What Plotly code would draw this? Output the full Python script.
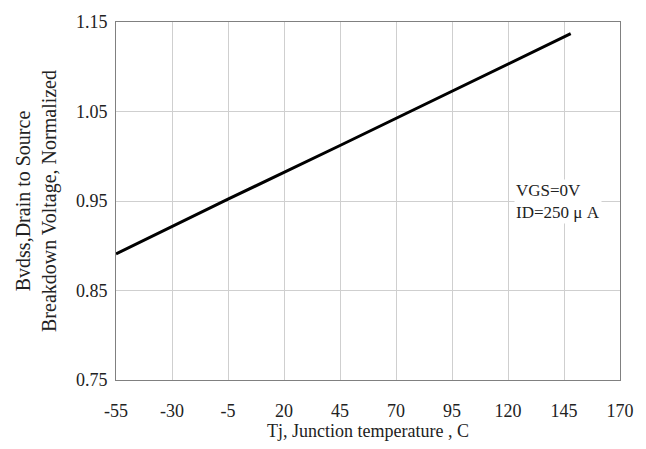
import plotly.graph_objects as go

temp_c = [-55, -5, 45, 95, 148]
bvdss_norm = [0.891, 0.952, 1.012, 1.073, 1.137]
x_ticks = [-55, -30, -5, 20, 45, 70, 95, 120, 145, 170]
x_tick_labels = ["-55", "-30", "-5", "20", "45", "70", "95", "120", "145", "170"]
y_ticks = [0.75, 0.85, 0.95, 1.05, 1.15]
y_tick_labels = ["0.75", "0.85", "0.95", "1.05", "1.15"]

font = "Liberation Serif"
fig = go.Figure()
fig.add_trace(go.Scatter(x=temp_c, y=bvdss_norm, mode="lines",
                         line=dict(color="black", width=3), showlegend=False))
fig.add_annotation(x=122.8, y=0.95, xref="x", yref="y", xanchor="left", yanchor="middle",
                   text="VGS=0V<br>ID=250 μ A", showarrow=False, align="left",
                   bgcolor="white", font=dict(family=font, size=17, color="#222"))
fig.update_layout(
    width=646, height=449,
    margin=dict(l=116, r=25, t=16, b=69),
    paper_bgcolor="white", plot_bgcolor="white",
    font=dict(family=font, size=18, color="#222"),
    xaxis=dict(range=[-55, 170], tickvals=x_ticks, ticktext=x_tick_labels, showgrid=True,
               gridcolor="#cfcfcf", gridwidth=1, showline=True, linecolor="#808080",
               linewidth=1, mirror=True, zeroline=False, ticks="", ticklabelstandoff=14,
               title=dict(text="Tj, Junction temperature , C", standoff=4,
                          font=dict(family=font, size=18))),
    yaxis=dict(range=[0.75, 1.15], tickvals=y_ticks, ticktext=y_tick_labels, showgrid=True,
               gridcolor="#cfcfcf", gridwidth=1, showline=True, linecolor="#808080",
               linewidth=1, mirror=True, zeroline=False, ticks="", ticklabelstandoff=4,
               title=dict(text="Bvdss,Drain to Source<br>Breakdown Voltage, Normalized",
                          standoff=13, font=dict(family=font, size=20))),
)
fig.write_html("out.html", config={"displayModeBar": False},
               post_script="document.body.style.margin='0';")
